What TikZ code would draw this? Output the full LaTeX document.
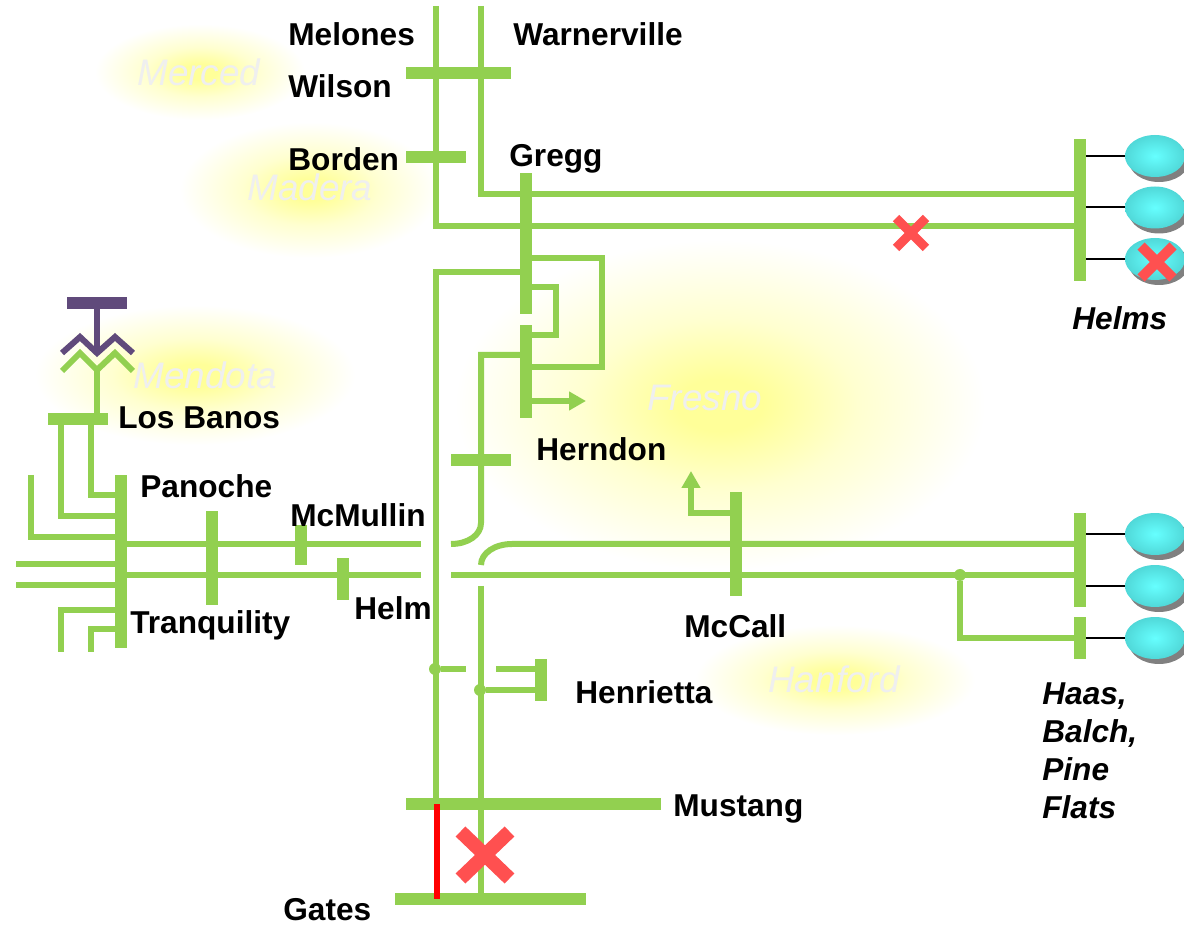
\documentclass[tikz,border=0pt]{standalone}
\usepackage{fontspec}
\setmainfont{Liberation Sans}
\usepackage{tikz}
\usetikzlibrary{arrows.meta,shapes.geometric,shapes.misc,shadows}

\definecolor{line_green}{HTML}{92D050}
\definecolor{trafo_purple}{HTML}{604A7B}
\definecolor{cross_red}{HTML}{FF5050}
\definecolor{glow_yellow}{HTML}{FFFF99}
\definecolor{glow_soft}{HTML}{FFFFD0}
\definecolor{pale_grey}{HTML}{EFEFEF}
\pgfdeclareradialshading{glow_fade}{\pgfpoint{0bp}{0bp}}{color(0bp)=(glow_yellow);color(4bp)=(glow_yellow);color(13bp)=(glow_soft);color(25bp)=(white);color(50bp)=(white)}

\tikzset{
    feeder/.style={draw=line_green,line width=0.12cm},
    vbus/.style={rectangle,fill=line_green,inner sep=0pt,minimum width=0.24cm},
    hbus/.style={rectangle,fill=line_green,inner sep=0pt,minimum height=0.24cm},
    joint/.style={circle,fill=line_green,inner sep=0pt,minimum size=0.24cm},
    generator/.style={ellipse,inner sep=0pt,minimum width=1.2cm,minimum height=0.84cm,inner color=gen_light,outer color=gen_dark,
        drop shadow={shadow xshift=0.08cm,shadow yshift=-0.1cm,fill=gray,opacity=1}},
    gen_stub/.style={draw=black,line width=0.04cm},
    cross_mark/.style={cross out,draw=cross_red,inner sep=0pt,outer sep=0pt},
    place_label/.style={anchor=base west,inner sep=0pt,font=\fontsize{18}{21.5}\selectfont\bfseries},
    area_label/.style={anchor=base west,inner sep=0pt,text=pale_grey,font=\fontsize{21}{25}\selectfont\itshape}
}
\definecolor{gen_light}{HTML}{66FFFF}
\definecolor{gen_dark}{HTML}{50D8D8}

\begin{document}
\begin{tikzpicture}[x=0.02cm,y=-0.02cm]

    \useasboundingbox (0,0) rectangle (1184,925);

    % area glows
    \shade[shading=glow_fade] (200,72) ellipse (105 and 48);
    \shade[shading=glow_fade] (310,190) ellipse (130 and 68);
    \shade[shading=glow_fade] (195,375) ellipse (160 and 70);
    \shade[shading=glow_fade] (720,405) ellipse (265 and 165);
    \shade[shading=glow_fade] (835,680) ellipse (140 and 55);

    \node[area_label] (merced) at (137,86) {Merced};
    \node[area_label] (madera) at (247,201) {Madera};
    \node[area_label] (mendota) at (133,389) {Mendota};
    \node[area_label] (fresno) at (647,411) {Fresno};
    \node[area_label] (hanford) at (768,693) {Hanford};

    % line ends and bends
    \coordinate (melones_top) at (436,6);
    \coordinate (warner_top) at (481,6);
    \coordinate (helms_a) at (1080,194);
    \coordinate (helms_b) at (1080,226);
    \coordinate (gregg_a) at (526,258);
    \coordinate (gregg_b) at (526,272);
    \coordinate (gregg_c) at (526,287);
    \coordinate (herndon_a) at (526,335);
    \coordinate (herndon_b) at (526,355);
    \coordinate (herndon_c) at (526,367);
    \coordinate (herndon_d) at (526,401);
    \coordinate (herndon_tip) at (586,401);
    \coordinate (loop_big) at (602,300);
    \coordinate (loop_small) at (556,300);
    \coordinate (left_main) at (436,400);
    \coordinate (mustang_a) at (436,804);
    \coordinate (mustang_b) at (481,804);
    \coordinate (gates_a) at (437,899);
    \coordinate (gates_b) at (481,899);
    \coordinate (down_bend) at (481,523);
    \coordinate (down_end) at (451,544);
    \coordinate (up_start) at (481,565);
    \coordinate (up_bend) at (512,544);
    \coordinate (mid_start) at (451,575.5);
    \coordinate (low_start) at (481,586);
    \coordinate (east_a) at (1080,544);
    \coordinate (east_b) at (1080,575.5);
    \coordinate (pine_a) at (1080,638);
    \coordinate (west_a) at (121,544);
    \coordinate (west_b) at (121,575.5);
    \coordinate (west_a_end) at (421,544);
    \coordinate (west_b_end) at (421,575.5);
    \coordinate (mccall_a) at (736,513);
    \coordinate (mccall_tip) at (691,471);
    \coordinate (joint_left_end) at (466,669);
    \coordinate (henrietta_a) at (541,669);
    \coordinate (henrietta_a_end) at (496,669);
    \coordinate (henrietta_b) at (541,690);

    % panoche stubs
    \coordinate (banos_a) at (61,419);
    \coordinate (banos_b) at (91,419);
    \coordinate (panoche_a) at (121,495);
    \coordinate (panoche_b) at (121,516);
    \coordinate (panoche_c) at (121,537);
    \coordinate (panoche_d) at (121,564);
    \coordinate (panoche_e) at (121,585);
    \coordinate (panoche_f) at (121,610);
    \coordinate (panoche_g) at (121,629);
    \coordinate (stub_c) at (31,475);
    \coordinate (stub_d) at (16,564);
    \coordinate (stub_e) at (16,585);
    \coordinate (stub_f) at (61,652);
    \coordinate (stub_g) at (91,652);

    % transformer
    \coordinate (trafo_stem) at (97,353);
    \coordinate (trafo_low) at (97,370);
    \coordinate (banos_top) at (97,419);

    % buses
    \node[hbus, minimum width=2.1cm] (wilson_bus) at (458.5,73) {};
    \node[hbus, minimum width=1.2cm] (borden_bus) at (436,157) {};
    \node[vbus, minimum height=2.82cm] (gregg_bus) at (526,243.5) {};
    \node[vbus, minimum height=1.86cm] (herndon_bus) at (526,371.5) {};
    \node[hbus, minimum width=1.2cm] (tap_bus) at (481,460) {};
    \node[vbus, minimum height=2.84cm] (helms_bus) at (1080,210) {};
    \node[vbus, minimum height=2.08cm] (mccall_bus) at (736,544) {};
    \node[vbus, minimum height=1.88cm] (haas_bus) at (1080,560) {};
    \node[vbus, minimum height=0.84cm] (pine_bus) at (1080,638) {};
    \node[vbus, minimum height=0.84cm] (henrietta_bus) at (541,680) {};
    \node[hbus, minimum width=5.1cm] (mustang_bus) at (533.5,804) {};
    \node[hbus, minimum width=3.82cm] (gates_bus) at (490.5,899) {};
    \node[vbus, minimum height=3.46cm] (panoche_bus) at (121,561.5) {};
    \node[vbus, minimum height=1.88cm] (tranq_bus) at (212,558) {};
    \node[vbus, minimum height=0.8cm] (mcmullin_bus) at (301,545) {};
    \node[vbus, minimum height=0.84cm] (helm_bus) at (343,579) {};
    \node[hbus, minimum width=1.2cm] (banos_bus) at (78,419) {};
    \node[hbus, minimum width=1.2cm, fill=trafo_purple] (trafo_bus) at (97,303) {};
    \node[joint] (joint_left) at (435,669) {};
    \node[joint] (joint_right) at (480,690) {};
    \node[joint] (joint_east) at (960,575) {};

    % feeders
    \draw[feeder] (melones_top) |- (helms_b);
    \draw[feeder] (warner_top) |- (helms_a);
    \draw[feeder] (gregg_a) -| (loop_big) |- (herndon_c);
    \draw[feeder] (gregg_c) -| (loop_small) |- (herndon_a);
    \draw[feeder] (gregg_b) -| (left_main) |- (mustang_a);
    \draw[feeder] (herndon_b) -| (down_bend) .. controls (481,535) and (468,544) .. (down_end);
    \draw[feeder] (up_start) .. controls (481,553) and (495,544) .. (up_bend) -- (east_a);
    \draw[feeder] (mid_start) -- (east_b);
    \draw[feeder] (low_start) -- (gates_b);
    \draw[feeder] (west_a) -- (west_a_end);
    \draw[feeder] (west_b) -- (west_b_end);
    \draw[feeder] (joint_east) |- (pine_a);
    \draw[feeder] (joint_left) -- (joint_left_end);
    \draw[feeder] (henrietta_a_end) -- (henrietta_a);
    \draw[feeder] (joint_right) -- (henrietta_b);
    \draw[feeder,-{Triangle[length=0.34cm,width=0.36cm]}] (herndon_d) -- (herndon_tip);
    \draw[feeder,-{Triangle[length=0.34cm,width=0.36cm]}] (mccall_a) -| (mccall_tip);

    \draw[feeder] (banos_a) |- (panoche_b);
    \draw[feeder] (banos_b) |- (panoche_a);
    \draw[feeder] (stub_c) |- (panoche_c);
    \draw[feeder] (stub_d) -- (panoche_d);
    \draw[feeder] (stub_e) -- (panoche_e);
    \draw[feeder] (stub_f) |- (panoche_f);
    \draw[feeder] (stub_g) |- (panoche_g);

    % transformer
    \draw[feeder] (trafo_low) -- (banos_top);
    \draw[feeder] (62,371) -- (80,353) -- (trafo_low) -- (115,353) -- (133,371);
    \draw[feeder,draw=trafo_purple] (trafo_bus) -- (trafo_stem);
    \draw[feeder,draw=trafo_purple] (62,353) -- (80,337) -- (trafo_stem) -- (115,337) -- (133,353);

    % red tie
    \draw[feeder,draw=red] (mustang_a -| gates_a) -- (gates_a);

    % generators
    \node[generator] (gen_a) at (1155,156) {};
    \node[generator] (gen_b) at (1155,207.5) {};
    \node[generator] (gen_c) at (1155,259) {};
    \node[generator] (gen_d) at (1155,534) {};
    \node[generator] (gen_e) at (1155,586) {};
    \node[generator] (gen_f) at (1155,638) {};
    \draw[gen_stub] (gen_a.west) -- (gen_a.west -| helms_bus.east);
    \draw[gen_stub] (gen_b.west) -- (gen_b.west -| helms_bus.east);
    \draw[gen_stub] (gen_c.west) -- (gen_c.west -| helms_bus.east);
    \draw[gen_stub] (gen_d.west) -- (gen_d.west -| haas_bus.east);
    \draw[gen_stub] (gen_e.west) -- (gen_e.west -| haas_bus.east);
    \draw[gen_stub] (gen_f.west) -- (gen_f.west -| pine_bus.east);

    % outages
    \node[cross_mark, line width=0.28cm, minimum width=0.98cm, minimum height=0.94cm] (cross_gates) at (485,855) {};
    \node[cross_mark, line width=0.18cm, minimum size=0.6cm] (cross_helms) at (911,233) {};
    \node[cross_mark, line width=0.2cm, minimum size=0.64cm] (cross_gen) at (1157,262) {};

    % labels
    \node[place_label] (melones) at (288,46) {Melones};
    \node[place_label] (warnerville) at (513,46) {Warnerville};
    \node[place_label] (wilson) at (288,98) {Wilson};
    \node[place_label] (borden) at (288,171) {Borden};
    \node[place_label] (gregg) at (509,167) {Gregg};
    \node[place_label] (los_banos) at (118,429) {Los Banos};
    \node[place_label] (panoche) at (140,498) {Panoche};
    \node[place_label] (mcmullin) at (290,527) {McMullin};
    \node[place_label] (tranquility) at (130,634) {Tranquility};
    \node[place_label] (helm) at (354,620) {Helm};
    \node[place_label] (herndon) at (536,461) {Herndon};
    \node[place_label] (mccall) at (684,638) {McCall};
    \node[place_label] (henrietta) at (575,704) {Henrietta};
    \node[place_label] (mustang) at (673,816) {Mustang};
    \node[place_label] (gates) at (283,920) {Gates};
    \node[place_label, font=\fontsize{18}{21.5}\selectfont\bfseries\itshape] (helms) at (1072,330) {Helms};
    \node[place_label, font=\fontsize{18}{21.5}\selectfont\bfseries\itshape, align=left] (haas) at (1042,818) {Haas,\\Balch,\\Pine\\Flats};

\end{tikzpicture}
\end{document}
